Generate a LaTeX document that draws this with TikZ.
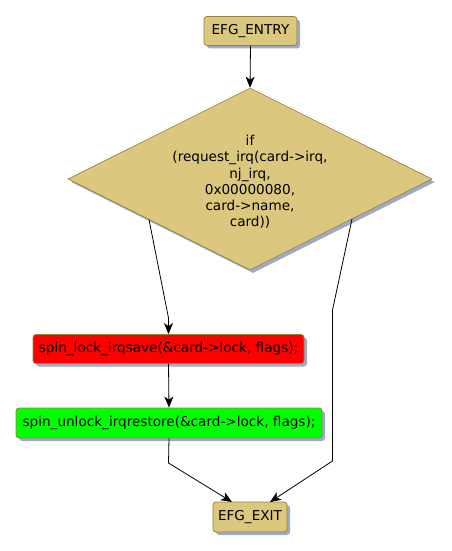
\documentclass[tikz,border=0pt]{standalone}
\usepackage{fontspec}
\setmainfont{DejaVu Sans}
\usetikzlibrary{shapes.geometric,arrows.meta,shadows}
\definecolor{beige}{HTML}{DBC77E}
\definecolor{bord}{HTML}{9A8040}
\definecolor{shad}{HTML}{9DABC9}
\begin{document}
\begin{tikzpicture}[x=1pt,y=-1pt,
  font=\fontsize{13.6}{16.2}\selectfont,
  box/.style={rectangle,rounded corners=3pt,draw=bord,line width=0.8pt,inner sep=0pt,
    drop shadow={shadow xshift=3pt,shadow yshift=-3pt,fill=shad,opacity=1}},
  dec/.style={diamond,draw=bord,line width=0.6pt,fill=beige,inner sep=0pt,align=center,
    drop shadow={shadow xshift=3pt,shadow yshift=-3pt,fill=shad,opacity=1}},
  conn/.style={draw=black,line width=0.8pt},
  arr/.style={conn,-{Stealth[length=11pt,width=9pt,inset=3pt]}}]
\useasboundingbox (0,0) rectangle (451,551);
\node[box,fill=beige,minimum width=93pt,minimum height=29pt] (entry) at (250.5,31) {EFG\_ENTRY};
\node[dec,minimum width=364pt,minimum height=182pt] (cond) at (250,179) {};
\node[align=center] (condtext) at (250,182) {if\\(request\_irq(card->irq,\\nj\_irq,\\0x00000080,\\card->name,\\card))};
\node[box,fill=red,minimum width=271pt,minimum height=29pt] (lock) at (168.5,349) {spin\_lock\_irqsave(\&card->lock, flags);};
\node[box,fill=green,minimum width=306pt,minimum height=30pt] (unlock) at (169,423) {spin\_unlock\_irqrestore(\&card->lock, flags);};
\node[box,fill=beige,minimum width=74pt,minimum height=30pt] (exit) at (250,517) {EFG\_EXIT};
\coordinate (l1) at (149,219.5);
\coordinate (l2) at (168.5,318);
\coordinate (r1) at (352,219);
\coordinate (r2) at (332.5,310);
\coordinate (r3) at (332.5,461);
\coordinate (g1) at (168.5,463);
\coordinate (e1) at (232,502);
\coordinate (e2) at (270,502);
\draw[arr] (entry.south) -- (cond.north);
\draw[arr] (l1) -- (l2) -- (lock.north);
\draw[arr] (lock.south) -- (unlock.north);
\draw[arr] (unlock.south) -- (g1) -- (e1);
\draw[arr] (r1) -- (r2) -- (r3) -- (e2);
\end{tikzpicture}
\end{document}
